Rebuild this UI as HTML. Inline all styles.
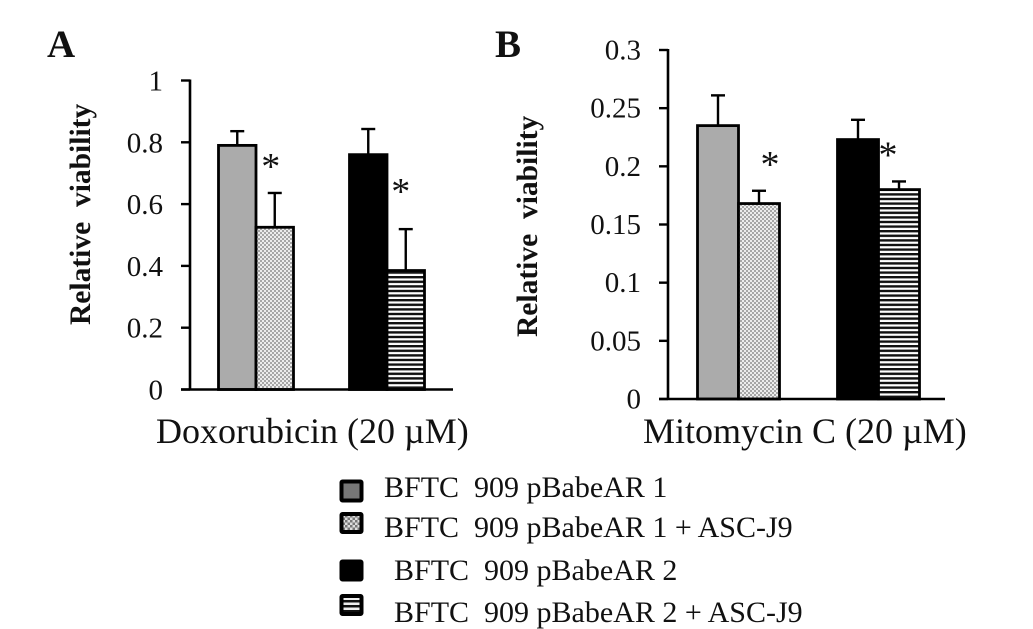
<!DOCTYPE html>
<html lang="en">
<head>
<meta charset="utf-8">
<title>Relative viability bar charts</title>
<style>
html,body{margin:0;padding:0;background:#fff;}
svg{display:block;font-family:"Liberation Serif",serif;color:#000;}
text{white-space:pre;fill:#111;}
</style>
</head>
<body>
<svg id="figure" width="1033" height="629" viewBox="0 0 1033 629" xmlns="http://www.w3.org/2000/svg">
<defs>
<pattern id="dots" width="4" height="4" patternUnits="userSpaceOnUse">
<rect width="4" height="4" fill="#ececec"/>
<rect x="0" y="0" width="2" height="2" fill="#a6a6a6"/>
<rect x="2" y="2" width="2" height="2" fill="#a6a6a6"/>
</pattern>
<pattern id="stripes" width="4.6" height="4.6" patternUnits="userSpaceOnUse">
<rect width="4.6" height="4.6" fill="#fff"/>
<rect y="0" width="4.6" height="2.4" fill="#111"/>
</pattern>
<pattern id="legend-dots" width="5" height="5" patternUnits="userSpaceOnUse">
<rect width="5" height="5" fill="#ddd"/>
<rect width="2.5" height="2.5" fill="#777"/>
<rect x="2.5" y="2.5" width="2.5" height="2.5" fill="#777"/>
</pattern>
<pattern id="legend-stripes" width="5" height="5" patternUnits="userSpaceOnUse">
<rect width="5" height="5" fill="#eee"/>
<rect width="5" height="2.5" fill="#111"/>
</pattern>
</defs>
<text x="47" y="57" font-size="39" font-weight="bold">A</text>
<text x="495" y="57" font-size="39" font-weight="bold">B</text>
<g id="chart-a"></g>
<g id="chart-b"></g>
<g>
<g>
<rect x="341.5" y="481.5" width="20" height="19" rx="1" fill="#777" stroke="#000" stroke-width="4"/>
<text x="384" y="497" font-size="30">BFTC  909 pBabeAR 1</text>
</g>
<g>
<rect x="341.5" y="514" width="20" height="18" rx="1" fill="url(#legend-dots)" stroke="#000" stroke-width="4"/>
<text x="384" y="537" font-size="30">BFTC  909 pBabeAR 1 + ASC-J9</text>
</g>
<g>
<rect x="341.5" y="561.5" width="20" height="18" rx="1" fill="#000" stroke="#000" stroke-width="4"/>
<text x="394" y="580" font-size="30">BFTC  909 pBabeAR 2</text>
</g>
<g>
<rect x="341.5" y="596" width="20" height="18" rx="1" fill="url(#legend-stripes)" stroke="#000" stroke-width="4"/>
<text x="394" y="622" font-size="30">BFTC  909 pBabeAR 2 + ASC-J9</text>
</g>
</g>
</svg>
<script>
const seriesNames = ['bar-ar1', 'bar-ar1-ascj9', 'bar-ar2', 'bar-ar2-ascj9'];
const doxValues = [0.79, 0.525, 0.76, 0.385];
const doxErrorTops = [0.836, 0.636, 0.843, 0.519];
const doxTicks = [0, 0.2, 0.4, 0.6, 0.8, 1];
const doxTickLabels = ['0', '0.2', '0.4', '0.6', '0.8', '1'];
const mitoValues = [0.235, 0.168, 0.223, 0.18];
const mitoErrorTops = [0.261, 0.179, 0.24, 0.187];
const mitoTicks = [0, 0.05, 0.1, 0.15, 0.2, 0.25, 0.3];
const mitoTickLabels = ['0', '0.05', '0.1', '0.15', '0.2', '0.25', '0.3'];

const SVG_NS = 'http://www.w3.org/2000/svg';
function make(parent, tag, props, content) {
  const el = document.createElementNS(SVG_NS, tag);
  for (const key in props) el.setAttribute(key, props[key]);
  if (content !== undefined) el.textContent = content;
  parent.appendChild(el);
  return el;
}

function drawChart(cfg) {
  const root = document.getElementById(cfg.id);
  const y = v => cfg.y0 - (v / cfg.yMax) * (cfg.y0 - cfg.yTop);
  const x = i => cfg.x0 + i * cfg.barW + (i >= 2 ? cfg.groupGap : 0);
  const fills = ['#ababab', 'url(#dots)', '#000', 'url(#stripes)'];

  cfg.ticks.forEach((t, i) => {
    const tick = make(root, 'line', {x1: cfg.axisX - 9, x2: cfg.axisX, y1: y(t), y2: y(t), stroke: '#000', 'stroke-width': 2.4});
    
    
    const label = make(root, 'text', {x: cfg.labelX, y: y(t) + cfg.labelDy, 'font-size': 29, 'text-anchor': 'end'}, cfg.tickLabels[i]);
    
    
  });

  cfg.values.forEach((v, i) => {
    const left = x(i);
    const center = left + cfg.barW / 2;
    const stem = make(root, 'line', {x1: center, x2: center, y1: y(v), y2: y(cfg.errorTops[i]), stroke: '#000', 'stroke-width': 2.4});
    
    
    const cap = make(root, 'line', {x1: center - 7, x2: center + 7, y1: y(cfg.errorTops[i]), y2: y(cfg.errorTops[i]), stroke: '#000', 'stroke-width': 2.4});
    
    
    const bar = make(root, 'rect', {x: left, y: y(v), width: cfg.barW, height: cfg.y0 - y(v), fill: fills[i], stroke: '#000', 'stroke-width': 2.8});
    
    
  });

  [1, 3].forEach((i, n) => {
    const star = make(root, 'text', {
      x: x(i) + cfg.barW / 2 + cfg.starDx[n],
      y: y(cfg.errorTops[i]) + cfg.starDy[n] + 14,
      'font-size': 38, 'text-anchor': 'middle'
    }, '*');
    
    
  });

  const yAxis = make(root, 'line', {x1: cfg.axisX, x2: cfg.axisX, y1: cfg.yTop - 1, y2: cfg.y0 + 1, stroke: '#000', 'stroke-width': 2.6});
  
  
  const xAxis = make(root, 'line', {x1: cfg.axisX - 9, x2: cfg.xEnd, y1: cfg.y0, y2: cfg.y0, stroke: '#000', 'stroke-width': 2.6});
  
  

  const yTitle = make(root, 'text', {
    transform: 'translate(' + cfg.yTitleX + ' ' + cfg.yTitleY + ') rotate(-90)',
    'font-size': 29.5, 'font-weight': 'bold'
  }, 'Relative  viability');
  
  
  const xTitle = make(root, 'text', {x: cfg.xTitleX, y: 443, 'font-size': 36}, cfg.xTitle);
  
  
}

drawChart({
  id: 'chart-a', values: doxValues, errorTops: doxErrorTops, ticks: doxTicks, tickLabels: doxTickLabels,
  yMax: 1, y0: 389.5, yTop: 80.5, axisX: 190, xEnd: 453, x0: 218.5, barW: 37.5, groupGap: 56,
  labelX: 163, labelDy: 10, starDx: [-4, -5], starDy: [-28, -39],
  yTitleX: 90, yTitleY: 325, xTitleX: 156, xTitle: 'Doxorubicin (20 \u00b5M)'
});
drawChart({
  id: 'chart-b', values: mitoValues, errorTops: mitoErrorTops, ticks: mitoTicks, tickLabels: mitoTickLabels,
  yMax: 0.3, y0: 399, yTop: 50, axisX: 668, xEnd: 945, x0: 697.5, barW: 41, groupGap: 58,
  labelX: 641, labelDy: 9.5, starDx: [11, -11], starDy: [-28, -28],
  yTitleX: 537, yTitleY: 337, xTitleX: 643, xTitle: 'Mitomycin C (20 \u00b5M)'
});
</script>
</body>
</html>
